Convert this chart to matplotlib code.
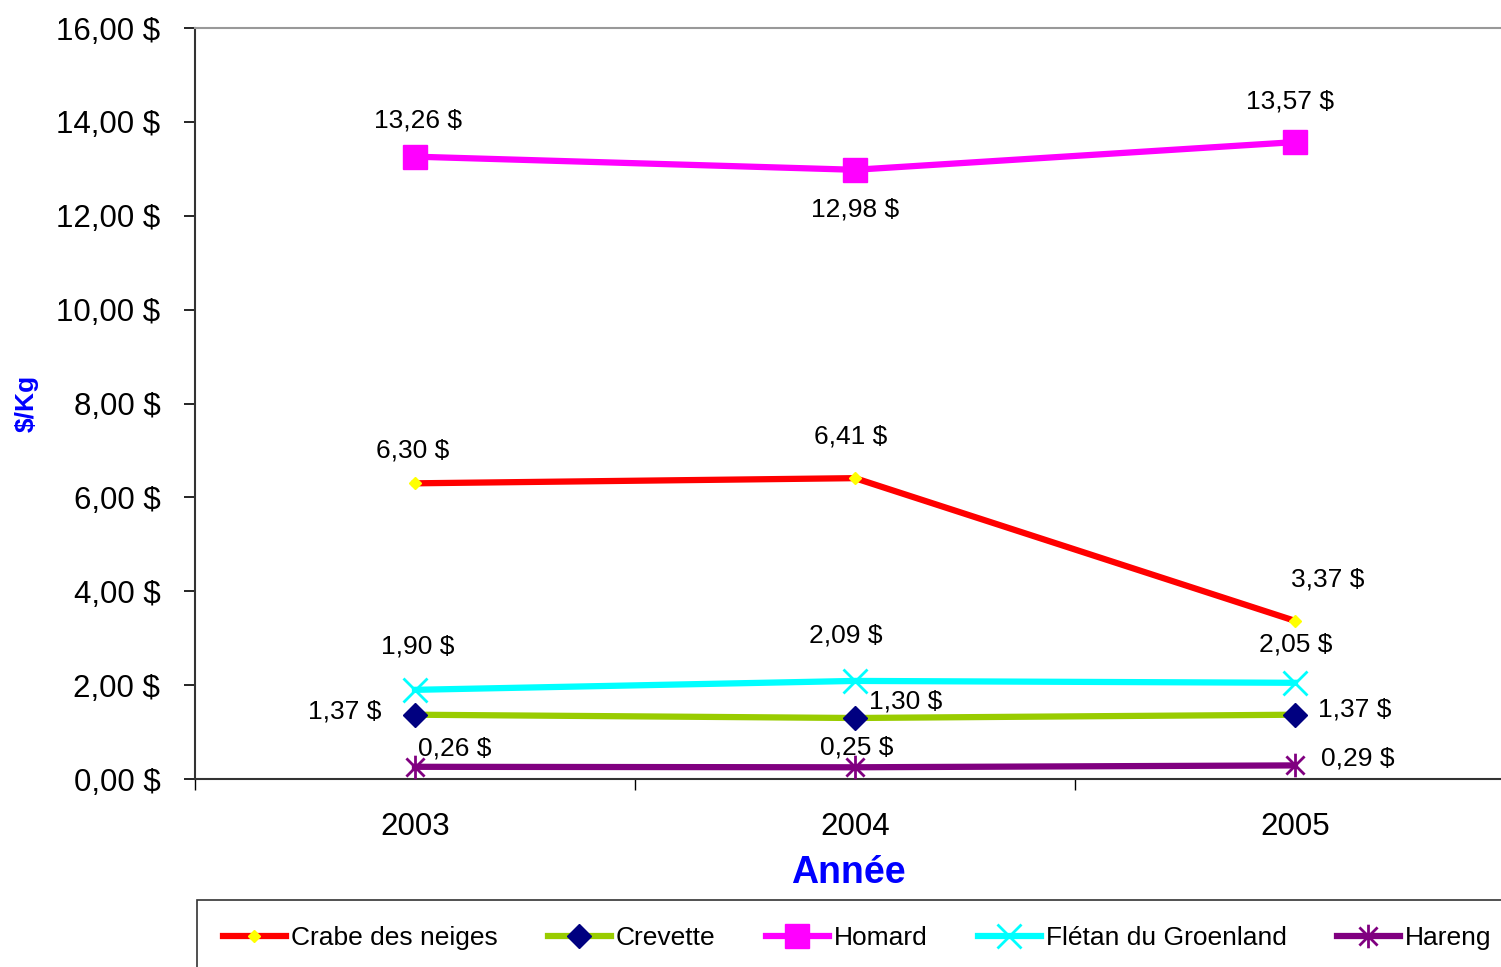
import matplotlib
matplotlib.use("Agg")
import matplotlib.pyplot as plt
from matplotlib.path import Path
from matplotlib.ticker import FixedLocator, FuncFormatter, NullFormatter

plt.rcParams['font.family'] = ['Liberation Sans', 'DejaVu Sans']

# data
years = ["2003", "2004", "2005"]
crabe = [6.30, 6.41, 3.37]
crevette = [1.37, 1.30, 1.37]
homard = [13.26, 12.98, 13.57]
fletan = [1.90, 2.09, 2.05]
hareng = [0.26, 0.25, 0.29]

# asterisk marker (x + vertical bar)
star = Path([(-1, -1), (1, 1), (-1, 1), (1, -1), (0, -1.3), (0, 1.3)],
            [Path.MOVETO, Path.LINETO, Path.MOVETO, Path.LINETO, Path.MOVETO, Path.LINETO])

series = [
    ("Crabe des neiges", crabe, dict(color="#FF0000", marker="D", ms=6, mfc="#FFFF00", mec="#FFFF00")),
    ("Crevette", crevette, dict(color="#99CC00", marker="D", ms=12, mfc="#000080", mec="#000080")),
    ("Homard", homard, dict(color="#FF00FF", marker="s", ms=17, mfc="#FF00FF", mec="#FF00FF")),
    ("Flétan du Groenland", fletan, dict(color="#00FFFF", marker="x", ms=17, mec="#00FFFF", mew=2)),
    ("Hareng", hareng, dict(color="#800080", marker=star, ms=17, mfc="none", mec="#800080", mew=2)),
]

# label offsets in pixels (dx, dy) for each point
offsets = [
    [(-2, 33), (-4, 42), (33, 41)],
    [(-70, 3), (51, 16), (60, 5)],
    [(3, 36), (0, -40), (-5, 41)],
    [(3, 43), (-9, 45), (1, 38)],
    [(40, 18), (2, 20), (63, 7)],
]

fig = plt.figure(figsize=(15.01, 9.67), dpi=100)
ax = fig.add_axes([0.1299, 0.1944, 0.8794, 0.7766])

x = list(range(len(years)))
for (name, vals, st), offs in zip(series, offsets):
    ax.plot(x, vals, lw=4.5, label=name, clip_on=False, zorder=3, **st)
    for xi, v, (dx, dy) in zip(x, vals, offs):
        ax.annotate(f"{v:.2f} $".replace(".", ","), (xi, v), xytext=(dx, dy),
                    textcoords="offset pixels", ha="center", va="center",
                    fontsize=19, color="black", zorder=4)

ax.set_xlim(-0.5, 2.5)
ax.set_ylim(0, 16)
ax.set_yticks(range(0, 17, 2))
ax.yaxis.set_major_formatter(FuncFormatter(lambda v, p: f"{v:.2f} $".replace(".", ",")))
ax.tick_params(axis="y", direction="out", length=8, width=1.2, labelsize=22.5, pad=17)

ax.xaxis.set_major_locator(FixedLocator([-0.5, 0.5, 1.5, 2.5]))
ax.xaxis.set_major_formatter(NullFormatter())
ax.xaxis.set_minor_locator(FixedLocator(x))
ax.set_xticklabels(years, minor=True)
ax.tick_params(axis="x", which="major", direction="out", length=8, width=1)
ax.tick_params(axis="x", which="minor", length=0, labelsize=22.5, pad=24)

ax.spines["left"].set_color("#333333")
ax.spines["left"].set_linewidth(1.5)
ax.spines["bottom"].set_color("#333333")
ax.spines["bottom"].set_linewidth(1.5)
ax.spines["top"].set_color("#999999")
ax.spines["top"].set_linewidth(1.5)
ax.spines["right"].set_visible(False)

fig.text(0.5649, 1 - 873 / 967, "Année", ha="center", va="center",
         fontsize=27, fontweight="bold", color="#0000FF")
fig.text(27 / 1501, 1 - 403 / 967, "$/Kg", ha="center", va="center", rotation=90,
         fontsize=19, fontweight="bold", color="#0000FF")

leg = fig.legend(loc="upper left", bbox_to_anchor=(197 / 1501, 1 - 900 / 967), ncol=5,
                 fontsize=19, frameon=True, fancybox=False, edgecolor="black",
                 handlelength=2.39, handletextpad=0.19, columnspacing=1.9,
                 borderpad=0.98, borderaxespad=0)
leg.get_frame().set_linewidth(1.2)

fig.savefig("out.png", dpi=100)
